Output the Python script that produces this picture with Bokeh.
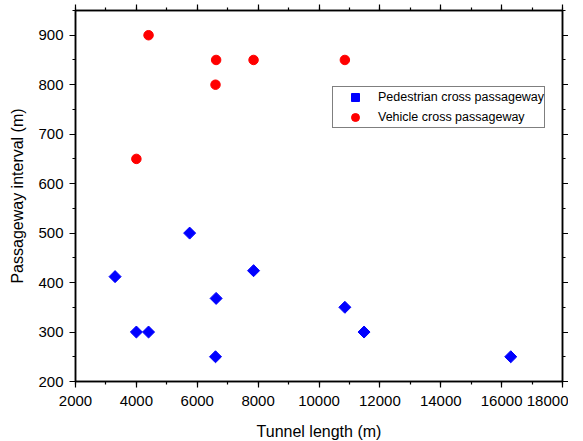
import math
from bokeh.plotting import figure
from bokeh.models import (LinearAxis, Range1d, Legend, LegendItem, CustomJSTickFormatter,
                          FixedTicker, ColumnDataSource)
from bokeh.embed import file_html
from bokeh.resources import INLINE

ped_x = [3300, 5750, 7850, 6620, 4000, 4400, 6600, 10850, 11480, 16300]
ped_y = [412, 500, 424, 368, 300, 300, 250, 350, 300, 250]
veh_x = [4400, 6620, 6600, 7850, 4000, 10850]
veh_y = [900, 850, 800, 850, 650, 850]
x_ticks = [2000, 4000, 6000, 8000, 10000, 12000, 14000, 16000, 18000]
y_ticks = [200, 300, 400, 500, 600, 700, 800, 900]
FONT = "Liberation Sans"

p = figure(frame_width=487, frame_height=371, output_backend="svg", toolbar_location=None,
           x_range=Range1d(2000, 18000), y_range=Range1d(200, 950),
           min_border_left=75, min_border_top=10, min_border_right=4, min_border_bottom=10,
           x_axis_label="Tunnel length (m)", y_axis_label="Passageway interval (m)")
p.grid.visible = False
p.outline_line_color = "black"
p.outline_line_width = 1.5

def style(ax, labels=True):
    ax.axis_line_width = 1.5
    ax.axis_line_color = "black"
    ax.major_tick_out = 6
    ax.major_tick_in = 0
    ax.minor_tick_out = 3
    ax.minor_tick_in = 0
    ax.major_tick_line_width = 1.2
    ax.minor_tick_line_width = 1.2
    ax.major_label_text_font = FONT
    ax.major_label_text_font_size = "15px"
    ax.major_label_text_color = "black"
    ax.axis_label_text_font = FONT
    ax.axis_label_text_font_size = "16px"
    ax.axis_label_text_font_style = "normal"
    ax.axis_label_text_color = "black"
    if not labels:
        ax.formatter = CustomJSTickFormatter(code="return ''")
        ax.major_label_text_font_size = "0px"
        ax.major_label_standoff = 0

style(p.xaxis[0]); style(p.yaxis[0])
p.xaxis[0].ticker = FixedTicker(ticks=x_ticks, minor_ticks=list(range(2000, 18001, 1000)))
p.yaxis[0].ticker = FixedTicker(ticks=y_ticks, minor_ticks=list(range(200, 951, 50)))
p.xaxis[0].major_label_standoff = 8
p.xaxis[0].axis_label_standoff = 14
p.yaxis[0].major_label_standoff = 6
p.yaxis[0].axis_label_standoff = 9

top = LinearAxis(ticker=FixedTicker(ticks=x_ticks, minor_ticks=list(range(2000, 18001, 1000))))
right = LinearAxis(ticker=FixedTicker(ticks=y_ticks, minor_ticks=list(range(200, 951, 50))))
style(top, False); style(right, False)
p.add_layout(top, "above")
p.add_layout(right, "right")

ped_src = ColumnDataSource(dict(x=ped_x, y=ped_y, a=[math.pi / 4] * len(ped_x)))
r1 = p.scatter("x", "y", source=ped_src, marker="square", size=8.5, angle="a", color="#0000FF")
r2 = p.scatter(veh_x, veh_y, marker="circle", size=9.5, color="#FF0000")

legend = Legend(items=[LegendItem(label="Pedestrian cross passageway", renderers=[r1], index=0),
                       LegendItem(label="Vehicle cross passageway", renderers=[r2])],
                location=(257, 253))
legend.border_line_color = "black"
legend.border_line_width = 1
legend.padding = 0
legend.margin = 0
legend.spacing = 0
legend.glyph_width = 44
legend.glyph_height = 20
legend.label_height = 20
legend.label_standoff = 1
legend.label_text_font = FONT
legend.label_text_font_size = "12.5px"
legend.label_text_color = "black"
legend.background_fill_alpha = 1
p.add_layout(legend, "center")

open("out.html", "w").write(file_html(p, INLINE))
